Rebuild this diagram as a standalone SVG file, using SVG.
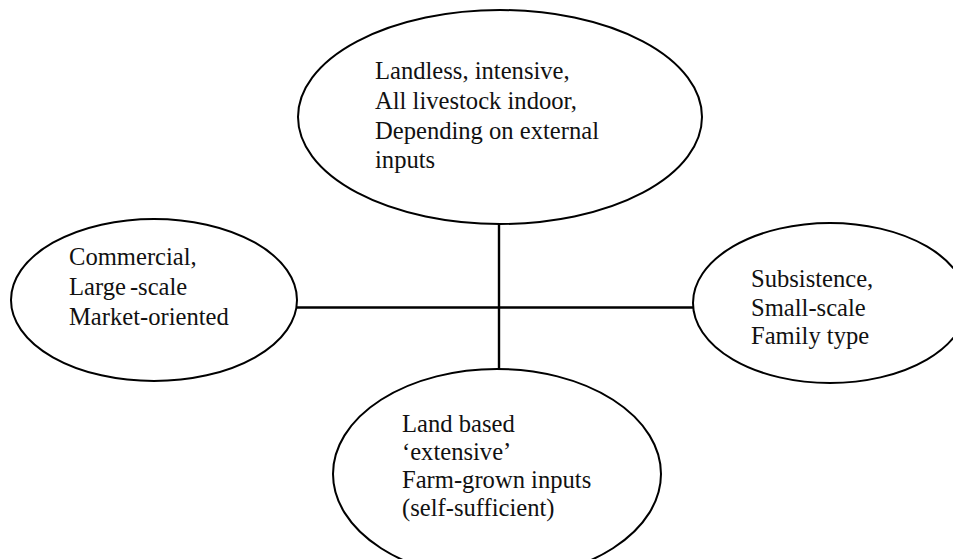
<svg xmlns="http://www.w3.org/2000/svg" width="953" height="559" viewBox="0 0 953 559">
<style>
.node ellipse{fill:#fff;stroke:#000;stroke-width:2}
.conn line{stroke:#000;stroke-width:2.4}
.lbl{font-family:"Liberation Serif","Times New Roman",serif;font-size:24.6px;fill:#111}
</style>
<rect width="953" height="559" fill="#fff"/>
<g id="connectors" class="conn">
<line x1="297" y1="307.5" x2="693" y2="307.5"/>
<line x1="499" y1="224" x2="499" y2="370"/>
</g>
<g id="node-top" class="node">
<ellipse cx="500" cy="117" rx="202" ry="107"/>
<g class="lbl">
<text x="375" y="79">Landless, intensive,</text>
<text x="375" y="109">All livestock indoor,</text>
<text x="375" y="139">Depending on external</text>
<text x="375" y="168">inputs</text>
</g>
</g>
<g id="node-left" class="node">
<ellipse cx="154" cy="300" rx="143" ry="81"/>
<g class="lbl">
<text x="69" y="265">Commercial,</text>
<text x="69" y="295">Large<tspan dx="4">-scale</tspan></text>
<text x="69" y="325">Market-oriented</text>
</g>
</g>
<g id="node-right" class="node">
<ellipse cx="830" cy="303" rx="137" ry="80"/>
<g class="lbl">
<text x="751" y="287">Subsistence,</text>
<text x="751" y="316">Small-scale</text>
<text x="751" y="344">Family type</text>
</g>
</g>
<g id="node-bottom" class="node">
<ellipse cx="497" cy="474" rx="164" ry="105"/>
<g class="lbl">
<text x="402" y="432">Land based</text>
<text x="402" y="460">‘extensive’</text>
<text x="402" y="488">Farm-grown inputs</text>
<text x="402" y="516">(self-sufficient)</text>
</g>
</g>
</svg>
